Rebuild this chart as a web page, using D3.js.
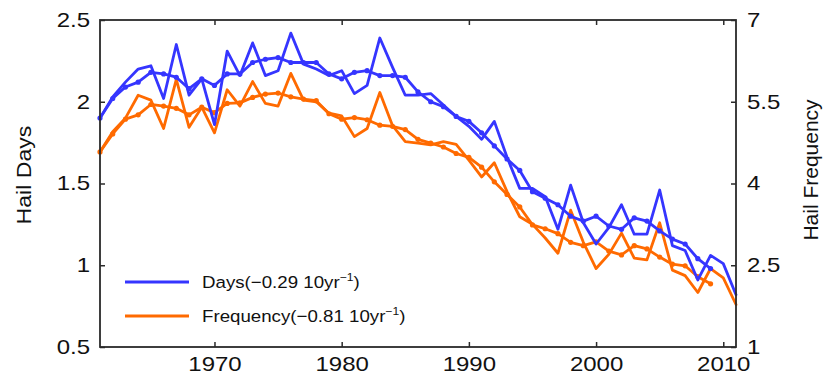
<!DOCTYPE html>
<html><head><meta charset="utf-8">
<script src="https://cdn.jsdelivr.net/npm/d3@7/dist/d3.min.js"></script>
<style>
body{margin:0;background:#fff;}
text{font-family:"Liberation Sans",Arial,Helvetica,sans-serif;fill:#111;}
</style>
</head><body>
<svg id="chart" width="825" height="376"></svg>
<script>
// ---- data ----
const years = [1961,1962,1963,1964,1965,1966,1967,1968,1969,1970,
  1971,1972,1973,1974,1975,1976,1977,1978,1979,1980,
  1981,1982,1983,1984,1985,1986,1987,1988,1989,1990,
  1991,1992,1993,1994,1995,1996,1997,1998,1999,2000,
  2001,2002,2003,2004,2005,2006,2007,2008,2009,2010,2011];
const smoothYears = years.slice(0, 49); // 1961–2009

const daysRaw = [1.90,2.03,2.12,2.20,2.22,2.02,2.35,2.04,2.14,1.86,
  2.31,2.16,2.36,2.16,2.19,2.42,2.23,2.20,2.16,2.19,
  2.05,2.10,2.39,2.21,2.04,2.04,2.05,1.98,1.91,1.85,
  1.77,1.88,1.66,1.47,1.47,1.42,1.22,1.49,1.26,1.13,
  1.23,1.37,1.19,1.19,1.46,1.12,1.09,0.91,1.06,1.01,0.82];
const daysSmooth = [1.90,2.02,2.09,2.12,2.18,2.17,2.15,2.08,2.14,2.10,
  2.17,2.17,2.24,2.26,2.27,2.24,2.24,2.24,2.17,2.14,
  2.18,2.19,2.16,2.16,2.15,2.06,2.00,1.97,1.91,1.88,
  1.81,1.73,1.65,1.58,1.45,1.41,1.37,1.30,1.27,1.30,
  1.24,1.22,1.29,1.27,1.21,1.16,1.13,1.04,0.98];
const freqRaw = [4.58,4.95,5.20,5.62,5.53,5.01,5.91,5.03,5.40,4.93,
  5.72,5.42,5.87,5.47,5.42,6.02,5.53,5.50,5.29,5.24,
  4.86,5.01,5.67,5.06,4.77,4.74,4.71,4.77,4.72,4.43,
  4.12,4.38,3.85,3.39,3.25,3.00,2.72,3.51,2.92,2.44,
  2.70,3.09,2.63,2.60,3.28,2.41,2.31,2.00,2.44,2.27,1.78];
const freqSmooth = [4.58,4.91,5.18,5.26,5.45,5.42,5.38,5.26,5.40,5.30,
  5.47,5.48,5.58,5.64,5.66,5.59,5.55,5.52,5.28,5.18,
  5.21,5.17,5.07,5.05,4.99,4.81,4.74,4.67,4.55,4.48,
  4.30,4.03,3.80,3.57,3.24,3.17,3.08,2.92,2.86,2.93,
  2.76,2.69,2.86,2.80,2.65,2.52,2.49,2.29,2.16];

const xTicks = [1970,1980,1990,2000,2010];
const leftTicks = [0.5,1,1.5,2,2.5];
const leftLabels = ["0.5","1","1.5","2","2.5"];
const rightTicks = [1,2.5,4,5.5,7];
const rightLabels = ["1","2.5","4","5.5","7"];
const legendLabels = [
  {name:"Days", rate:"−0.29"},
  {name:"Frequency", rate:"−0.81"}
];

// ---- layout ----
const L = 100, R = 736, T = 20, B = 347;
const BLUE = "#3535ff", ORANGE = "#ff6a00", AXIS = "#2a2a2a";
const svg = d3.select("#chart");

const x = d3.scaleLinear().domain([1961, 2011]).range([L, R]);
const yL = d3.scaleLinear().domain([0.5, 2.5]).range([B, T]);
const yR = d3.scaleLinear().domain([1, 7]).range([B, T]);

function stretchTexts(g, sx) {
  g.selectAll("text").each(function() {
    const t = d3.select(this);
    const tx = +t.attr("x") || 0, ty = +t.attr("y") || 0;
    t.attr("x", 0).attr("y", 0)
     .attr("transform", `translate(${tx},${ty}) scale(${sx},1)`);
  });
}

// ---- series ----
function drawSeries(xs, vals, yScale, color, dots) {
  const line = d3.line().x((d, i) => x(xs[i])).y(d => yScale(d));
  svg.append("path").datum(vals)
    .attr("d", line).attr("fill", "none")
    .attr("stroke", color).attr("stroke-width", 2.8)
    .attr("stroke-linejoin", "round").attr("stroke-linecap", "round");
  if (dots) {
    svg.append("g").selectAll("circle").data(vals).join("circle")
      .attr("cx", (d, i) => x(xs[i])).attr("cy", d => yScale(d))
      .attr("r", 2.6).attr("fill", color);
  }
}
drawSeries(years, freqRaw, yR, ORANGE, false);
drawSeries(smoothYears, freqSmooth, yR, ORANGE, true);
drawSeries(years, daysRaw, yL, BLUE, false);
drawSeries(smoothYears, daysSmooth, yL, BLUE, true);

// ---- axes ----
const fs = 20, sx = 1.2;
const gB = svg.append("g").attr("transform", `translate(0,${B})`)
  .call(d3.axisBottom(x).tickValues(xTicks).tickFormat(d3.format("d")).tickSize(-5).tickPadding(10));
const gT = svg.append("g").attr("transform", `translate(0,${T})`)
  .call(d3.axisTop(x).tickValues(xTicks).tickFormat("").tickSize(-5));
const gL = svg.append("g").attr("transform", `translate(${L},0)`)
  .call(d3.axisLeft(yL).tickValues(leftTicks).tickFormat((d, i) => leftLabels[i]).tickSize(-5).tickPadding(10));
const gR = svg.append("g").attr("transform", `translate(${R},0)`)
  .call(d3.axisRight(yR).tickValues(rightTicks).tickFormat((d, i) => rightLabels[i]).tickSize(-5).tickPadding(11));
[gB, gT, gL, gR].forEach(g => {
  g.select(".domain").remove();
  g.selectAll("line").attr("stroke", AXIS).attr("stroke-width", 1.5);
  g.selectAll("text").attr("font-size", fs).attr("fill", "#111")
    .attr("font-family", '"Liberation Sans",Arial,sans-serif');
});
[gB, gL, gR].forEach(g => stretchTexts(g, sx));

svg.append("rect").attr("x", L).attr("y", T).attr("width", R - L).attr("height", B - T)
  .attr("fill", "none").attr("stroke", AXIS).attr("stroke-width", 1.8);

// ---- axis titles ----
svg.append("text").attr("transform", `translate(31,175) rotate(-90) scale(1.1,1)`)
  .attr("text-anchor", "middle").attr("font-size", 21).text("Hail Days");
svg.append("text").attr("transform", `translate(818,170) rotate(-90) scale(1.0,1)`)
  .attr("text-anchor", "middle").attr("font-size", 21).text("Hail Frequency");

// ---- legend ----
const leg = svg.append("g");
const legColors = [BLUE, ORANGE];
const legY = [282, 316];
legendLabels.forEach((d, i) => {
  leg.append("line").attr("x1", 125).attr("x2", 189)
    .attr("y1", legY[i]).attr("y2", legY[i])
    .attr("stroke", legColors[i]).attr("stroke-width", 2.8);
  const t = leg.append("text")
    .attr("transform", `translate(202,${legY[i] + 6}) scale(1.1,1)`)
    .attr("font-size", 17);
  t.append("tspan").text(`${d.name}(${d.rate} 10yr`);
  t.append("tspan").attr("font-size", 11).attr("dy", -7).text("−1");
  t.append("tspan").attr("dy", 7).text(")");
});
</script>
</body></html>
